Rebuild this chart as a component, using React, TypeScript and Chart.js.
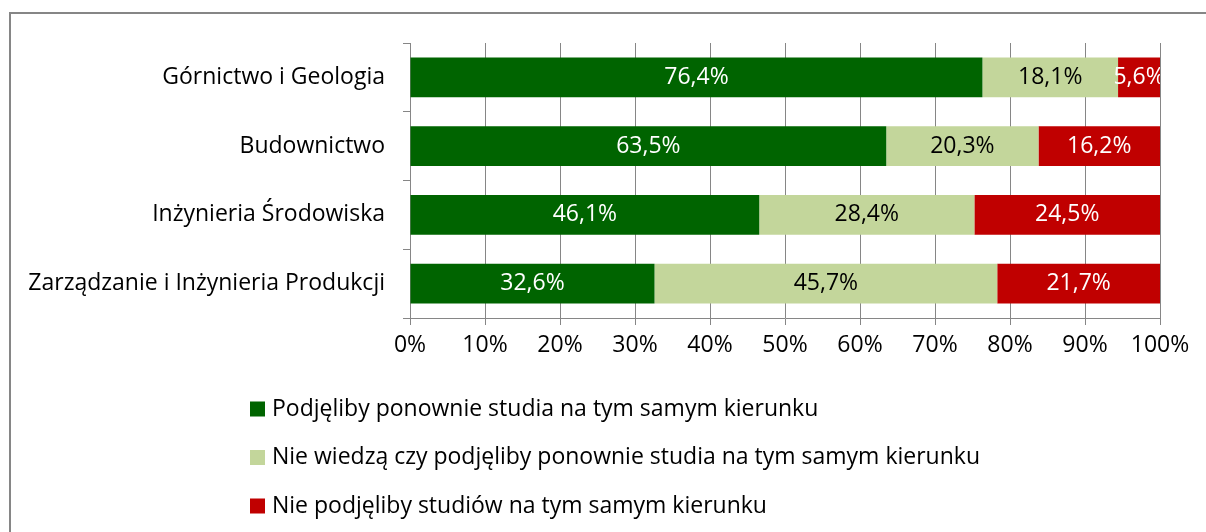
import React, { useEffect, useRef } from "react";
import { Chart, registerables } from "chart.js";

Chart.register(...registerables);

const categories = [
  "Górnictwo i Geologia",
  "Budownictwo",
  "Inżynieria Środowiska",
  "Zarządzanie i Inżynieria Produkcji",
];
const seriesNames = [
  "Podjęliby ponownie studia na tym samym kierunku",
  "Nie wiedzą czy podjęliby ponownie studia na tym samym kierunku",
  "Nie podjęliby studiów na tym samym kierunku",
];
const wouldRepeat = [76.4, 63.5, 46.1, 32.6];
const unsure = [18.1, 20.3, 28.4, 45.7];
const wouldNot = [5.6, 16.2, 24.5, 21.7];
const xTickValues = [0, 10, 20, 30, 40, 50, 60, 70, 80, 90, 100];

const seriesColors = ["#006400", "#C3D69B", "#C00000"];
const labelColors = ["#FFFFFF", "#000000", "#FFFFFF"];
const FONT = "'Open Sans', Lato, sans-serif";
const FONT_SIZE = 23;
const AXIS_COLOR = "#868686";

const rawSeries = [wouldRepeat, unsure, wouldNot];
const totals = categories.map((_, i) => rawSeries.reduce((s, arr) => s + arr[i], 0));
const shareSeries = rawSeries.map((arr) => arr.map((v, i) => (v / totals[i]) * 100));

const fmt = (v: number) => v.toFixed(1).replace(".", ",") + "%";

const dataLabelPlugin = {
  id: "dataLabels",
  afterDatasetsDraw(chart: any) {
    const { ctx, chartArea } = chart;
    ctx.save();
    ctx.beginPath();
    ctx.rect(chartArea.left, chartArea.top, chartArea.right - chartArea.left, chartArea.bottom - chartArea.top);
    ctx.clip();
    ctx.font = `${FONT_SIZE}px ${FONT}`;
    ctx.textAlign = "center";
    ctx.textBaseline = "middle";
    chart.data.datasets.forEach((ds: any, di: number) => {
      const meta = chart.getDatasetMeta(di);
      meta.data.forEach((bar: any, i: number) => {
        const cx = (bar.x + bar.base) / 2;
        ctx.fillStyle = labelColors[di];
        ctx.fillText(fmt(rawSeries[di][i]), cx, bar.y);
      });
    });
    ctx.restore();
  },
};

const stackLegendPlugin = {
  id: "stackLegend",
  afterDraw(chart: any) {
    const { ctx, chartArea } = chart;
    ctx.save();
    ctx.font = `${FONT_SIZE}px ${FONT}`;
    ctx.textAlign = "left";
    ctx.textBaseline = "middle";
    const x0 = chartArea.left - 160;
    seriesNames.forEach((name, i) => {
      const cy = chartArea.bottom + 91 + i * 48.5;
      ctx.fillStyle = seriesColors[i];
      ctx.fillRect(x0, cy - 7.5, 15, 15);
      ctx.fillStyle = "#000000";
      ctx.fillText(name, x0 + 22, cy);
    });
    ctx.restore();
  },
};

export default function App() {
  const canvasRef = useRef<HTMLCanvasElement | null>(null);

  useEffect(() => {
    if (!canvasRef.current) return;
    const chart = new Chart(canvasRef.current, {
      type: "bar",
      data: {
        labels: categories,
        datasets: seriesNames.map((name, i) => ({
          label: name,
          data: shareSeries[i],
          backgroundColor: seriesColors[i],
          borderWidth: 0,
          barPercentage: 0.58,
          categoryPercentage: 1,
        })),
      },
      options: {
        indexAxis: "y",
        animation: false,
        responsive: false,
        devicePixelRatio: 1,
        layout: { padding: { top: 43, right: 46, bottom: 164, left: 0 } },
        plugins: {
          legend: { display: false },
          tooltip: { enabled: false },
        },
        scales: {
          x: {
            stacked: true,
            min: 0,
            max: 100,
            afterBuildTicks: (scale: any) => {
              scale.ticks = xTickValues.map((v) => ({ value: v }));
            },
            afterFit: (scale: any) => {
              scale.height = 50;
            },
            ticks: {
              callback: (v: any) => v + "%",
              color: "#000000",
              font: { family: FONT, size: FONT_SIZE },
              padding: 7,
              maxRotation: 0,
            },
            grid: { color: AXIS_COLOR, lineWidth: 1, tickLength: 7, drawOnChartArea: true },
            border: { color: AXIS_COLOR, width: 1 },
          },
          y: {
            stacked: true,
            afterFit: (scale: any) => {
              scale.width = 410;
            },
            ticks: {
              color: "#000000",
              font: { family: FONT, size: FONT_SIZE },
              padding: 18,
            },
            grid: { color: AXIS_COLOR, lineWidth: 1, tickLength: 7, drawOnChartArea: false, offset: true },
            border: { color: AXIS_COLOR, width: 1 },
          },
        },
      },
      plugins: [dataLabelPlugin, stackLegendPlugin],
    });
    return () => chart.destroy();
  }, []);

  return (
    <div style={{ position: "fixed", left: 0, top: 0, width: 1206, height: 532, background: "#fff", overflow: "hidden" }}>
      <div
        style={{
          position: "absolute",
          left: 9,
          top: 12,
          width: 1300,
          height: 600,
          borderLeft: `2px solid ${AXIS_COLOR}`,
          borderTop: `2px solid ${AXIS_COLOR}`,
        }}
      />
      <canvas
        ref={canvasRef}
        width={1206}
        height={532}
        style={{ position: "absolute", left: 0, top: 0, width: 1206, height: 532 }}
      />
    </div>
  );
}
